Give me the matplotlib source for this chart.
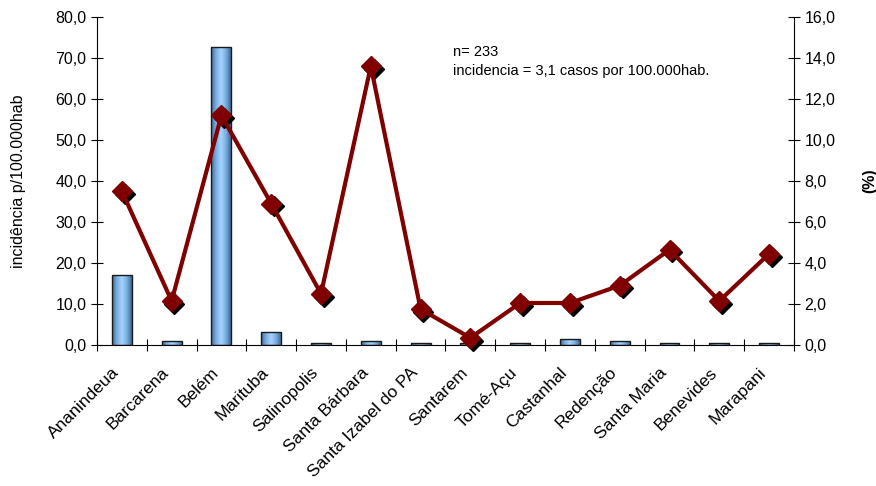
import numpy as np
import matplotlib
matplotlib.use("Agg")
import matplotlib.pyplot as plt
import matplotlib.transforms as mtransforms
from matplotlib.ticker import FixedLocator, FuncFormatter

plt.rcParams['font.family'] = ['Liberation Sans', 'DejaVu Sans']

municipios = ["Ananindeua", "Barcarena", "Belém", "Marituba", "Salinopolis",
              "Santa Bárbara", "Santa Izabel do PA", "Santarem", "Tomé-Açu",
              "Castanhal", "Redenção", "Santa Maria", "Benevides", "Marapani"]
incidencia = [17.1, 1.0, 72.7, 3.2, 0.4, 1.0, 0.4, 0.4, 0.4, 1.4, 1.0, 0.4, 0.4, 0.4]
percentual = [7.5, 2.15, 11.2, 6.9, 2.5, 13.6, 1.75, 0.35, 2.05, 2.05, 2.9, 4.65, 2.15, 4.45]

fig = plt.figure(figsize=(8.76, 4.86), dpi=100)
ax = fig.add_axes([0.1107, 0.2901, 0.7957, 0.6749])
x = np.arange(len(municipios))

def virgula(v, pos):
    return f"{v:.1f}".replace('.', ',')

# bars with a horizontal shading (dark edges, light centre)
bars = ax.bar(x, incidencia, width=0.4, color='none', edgecolor='#1a1a1a',
              linewidth=1.0, zorder=3)
grad = np.abs(np.linspace(-1, 1, 64))
cmap = matplotlib.colors.LinearSegmentedColormap.from_list(
    'barshade', ['#a3d3ff', '#7aaee0', '#3d6a96'])
for b in bars:
    x0, y0 = b.get_x(), b.get_y()
    w, h = b.get_width(), b.get_height()
    im = ax.imshow(grad[np.newaxis, :], cmap=cmap, aspect='auto',
                   extent=(x0, x0 + w, y0, y0 + h), zorder=2,
                   interpolation='bicubic')
    im.set_clip_path(b)

ax.set_xlim(-0.5, len(municipios) - 0.5)
ax.set_ylim(0, 80)
ax.yaxis.set_major_locator(FixedLocator(np.arange(0, 81, 10)))
ax.yaxis.set_major_formatter(FuncFormatter(virgula))
ax.set_ylabel("incidência p/100.000hab", fontsize=11.5, labelpad=21)

ax.set_xticks(x)
ax.set_xticklabels(municipios, rotation=45, ha='right', va='center',
                   rotation_mode='anchor', fontsize=12.5)
ax.tick_params(axis='x', which='major', length=0, pad=18)
# shift the rotated labels slightly to the left
shift = mtransforms.ScaledTranslation(-5 / 100, 0, fig.dpi_scale_trans)
for lbl in ax.get_xticklabels():
    lbl.set_transform(lbl.get_transform() + shift)
ax.set_xticks(np.arange(-0.5, len(municipios) + 0.5, 1), minor=True)
ax.tick_params(axis='x', which='minor', direction='inout', length=8, width=0.8)
ax.tick_params(axis='y', direction='inout', length=8, width=0.8, labelsize=11.5)
ax.spines['top'].set_visible(False)
ax.spines['right'].set_visible(False)
for s in ('left', 'bottom'):
    ax.spines[s].set_linewidth(0.8)

ax2 = ax.twinx()
ax2.set_ylim(0, 16)
ax2.yaxis.set_major_locator(FixedLocator(np.arange(0, 16.1, 2)))
ax2.yaxis.set_major_formatter(FuncFormatter(virgula))
ax2.tick_params(axis='y', direction='inout', length=8, width=0.8, labelsize=11.5)
ax2.spines['top'].set_visible(False)
ax2.spines['left'].set_visible(False)
ax2.spines['bottom'].set_visible(False)
ax2.spines['right'].set_linewidth(0.8)
ax2.set_ylabel("(%)", fontsize=11.5, fontweight='bold', labelpad=19)

shadow = mtransforms.offset_copy(ax2.transData, fig=fig, x=2.0, y=-2.0, units='points')
ax2.plot(x, percentual, linestyle='none', marker='D', markersize=10.5,
         color='black', transform=shadow, zorder=4, clip_on=False)
ax2.plot(x, percentual, color='#800000', linewidth=3.0, marker='D',
         markersize=10.5, markerfacecolor='#800000', markeredgecolor='#800000',
         zorder=5, clip_on=False)

fig.text(0.517, 0.885, "n= 233", fontsize=10.5)
fig.text(0.517, 0.845, "incidencia = 3,1 casos por 100.000hab.", fontsize=10.5)

fig.savefig("out.png", dpi=100)
